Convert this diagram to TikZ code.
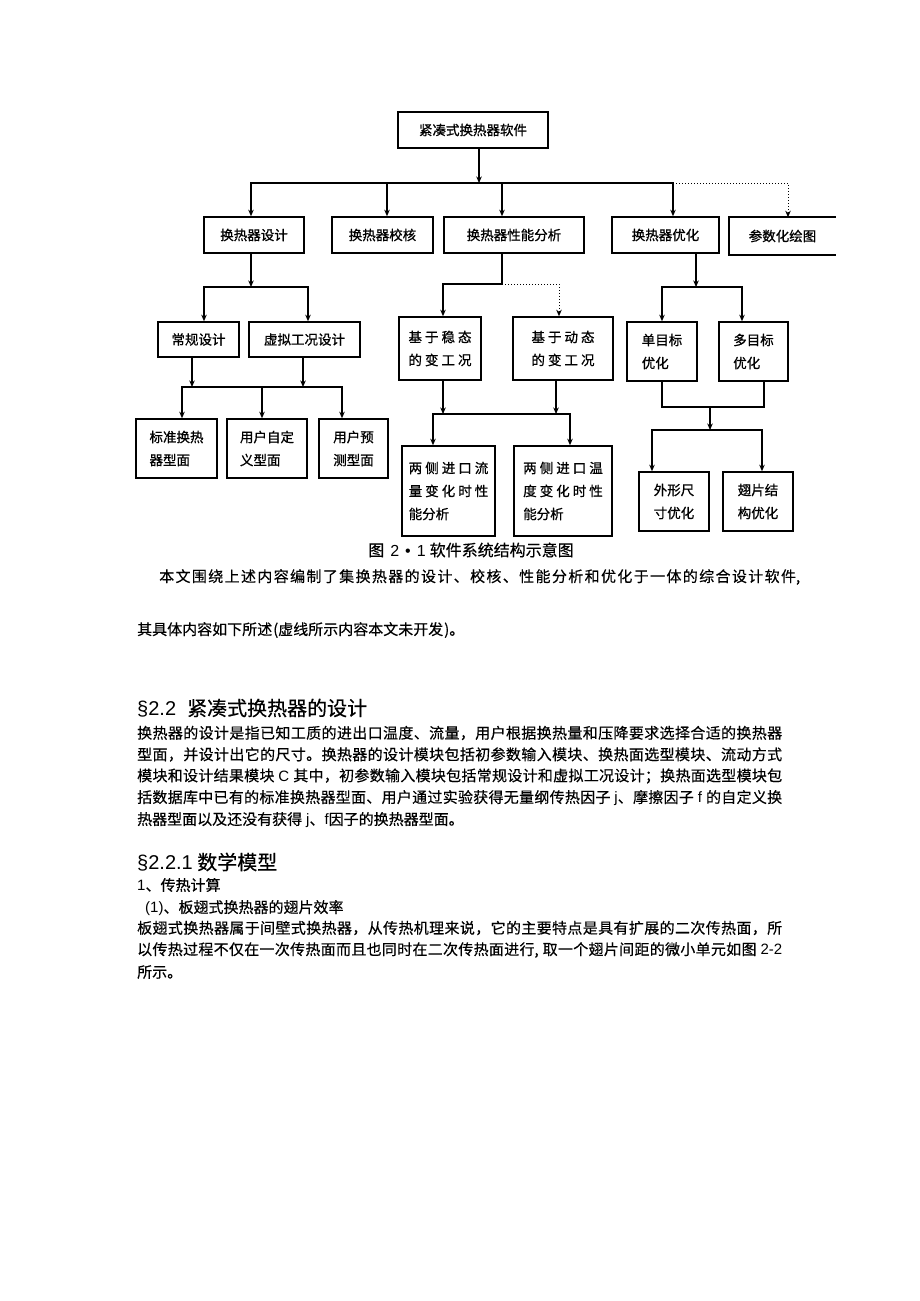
\documentclass[tikz,border=0pt]{standalone}
\usepackage{fontspec}
\setmainfont{Noto Sans CJK SC}[FakeBold=0.4]
\newfontfamily\boxfont{Noto Sans CJK SC}[FakeBold=0.9]
\newfontfamily\latin{Liberation Sans}
\usetikzlibrary{arrows.meta}

% 汉字之间可伸缩的间距（两端对齐用）
\newXeTeXintercharclass\hanclass
\count255="4E00
\loop
  \XeTeXcharclass\count255=\hanclass
  \ifnum\count255<"9FFF \advance\count255 by 1
\repeat
\XeTeXcharclass"3001=\hanclass
\XeTeXcharclass"3002=\hanclass
\XeTeXcharclass"FF0C=\hanclass
\XeTeXcharclass"FF1B=\hanclass
\XeTeXinterchartokenstate=1
\XeTeXinterchartoks\hanclass\hanclass={\hskip 0pt plus 1pt\relax}

\tikzset{
  box/.style={draw, line width=1.6pt, inner sep=0pt, align=center,
    font=\boxfont\fontsize{13.5}{23}\selectfont},
  lbox/.style={box, align=left},
  ln/.style={line width=1.6pt},
  arr/.style={line width=1.6pt, -{Stealth[length=6.5pt,width=5.5pt]}},
  dotarr/.style={line width=1pt, dotted, -{Stealth[length=6.5pt,width=5.5pt]}},
  body/.style={anchor=west, inner sep=0pt, font=\fontsize{15}{18}\selectfont},
  head/.style={anchor=west, inner sep=0pt, font=\fontsize{20}{24}\selectfont}
}

\begin{document}
\begin{tikzpicture}[x=1pt,y=-1pt]

  % 画布
  \fill[white] (0,0) rectangle (920,1301);
  \useasboundingbox (0,0) rectangle (920,1301);

  % 第一层
  \node[box, minimum width=150pt, minimum height=36pt] (soft) at (473,130) {紧凑式换热器软件};

  % 第二层
  \node[box, minimum width=100pt, minimum height=36pt] (design) at (254,235) {换热器设计};
  \node[box, minimum width=101pt, minimum height=36pt] (check) at (382.5,235) {换热器校核};
  \node[box, minimum width=140pt, minimum height=36pt] (perf) at (514,235) {换热器性能分析};
  \node[box, minimum width=107pt, minimum height=36pt] (opt) at (665.5,235) {换热器优化};
  \node[box, draw=none, minimum width=105pt, minimum height=36pt] (param) at (782.5,236) {参数化绘图};
  \draw[ln] (param.north east) -- (param.north west) -- (param.south west) -- (param.south east);

  % 设计分支
  \node[box, minimum width=81pt, minimum height=35pt] (conv) at (198.5,339.5) {常规设计};
  \node[box, minimum width=111pt, minimum height=35pt] (virt) at (304.5,339.5) {虚拟工况设计};
  \node[lbox, minimum width=81pt, minimum height=59pt] (std) at (176.5,448.5) {标准换热\\器型面};
  \node[lbox, minimum width=80pt, minimum height=59pt] (user) at (267,448.5) {用户自定\\义型面};
  \node[lbox, minimum width=69pt, minimum height=59pt] (pred) at (353.5,448.5) {用户预\\测型面};

  % 性能分析分支
  \node[lbox, minimum width=82pt, minimum height=63pt] (steady) at (440,348.5) {基~于~稳~态\\的~变~工~况};
  \node[lbox, minimum width=100pt, minimum height=63pt] (dyn) at (563,348.5) {基~于~动~态\\的~变~工~况};
  \node[lbox, minimum width=93pt, minimum height=90pt] (flow) at (448.5,491) {两~侧~进~口~流\\量~变~化~时~性\\能分析};
  \node[lbox, minimum width=98pt, minimum height=90pt] (temp) at (563,491) {两~侧~进~口~温\\度~变~化~时~性\\能分析};

  % 优化分支
  \node[lbox, minimum width=70pt, minimum height=59pt] (single) at (662,351.5) {单目标\\优化};
  \node[lbox, minimum width=69pt, minimum height=59pt] (multi) at (753.5,351.5) {多目标\\优化};
  \node[lbox, minimum width=70pt, minimum height=59pt] (shape) at (674,501.5) {外形尺\\寸优化};
  \node[lbox, minimum width=70pt, minimum height=59pt] (fin) at (758,501.5) {翅片结\\构优化};

  % 汇流点
  \coordinate (b1) at (479,183);
  \coordinate (b1r) at (673,183);
  \coordinate (b2) at (251,287);
  \coordinate (b3l) at (192,387);
  \coordinate (b3r) at (303,387);
  \coordinate (b4) at (502,284);
  \coordinate (b5l) at (443,414);
  \coordinate (b5r) at (556,414);
  \coordinate (b6) at (696,287);
  \coordinate (b7) at (710,407);
  \coordinate (b8) at (710,430);

  % 第一层连线
  \draw[arr] (soft.south -| b1) -- (b1);
  \draw[arr] (b1) -| ([xshift=-3pt]design.north);
  \draw[arr] (b1) -| ([xshift=4.5pt]check.north);
  \draw[arr] (b1) -| ([xshift=-12pt]perf.north);
  \draw[arr] (b1) -| ([xshift=7.5pt]opt.north);
  \draw[dotarr] (b1r) -| ([xshift=5.5pt]param.north);

  % 设计分支连线
  \draw[arr] ([xshift=-3pt]design.south) -- (b2);
  \draw[arr] (b2) -| ([xshift=5.5pt]conv.north);
  \draw[arr] (b2) -| ([xshift=3.5pt]virt.north);
  \draw[arr] ([xshift=-6.5pt]conv.south) -- (b3l);
  \draw[arr] ([xshift=-1.5pt]virt.south) -- (b3r);
  \draw[arr] (b3l) -| ([xshift=5.5pt]std.north);
  \draw[arr] (b3l) -| ([xshift=-5pt]user.north);
  \draw[arr] (b3l) -| ([xshift=-11.5pt]pred.north);

  % 性能分析分支连线
  \draw[ln] ([xshift=-12pt]perf.south) -- (b4);
  \draw[arr] (b4) -| ([xshift=3pt]steady.north);
  \draw[dotarr] (b4) -| ([xshift=-4pt]dyn.north);
  \draw[arr] ([xshift=3pt]steady.south) -- (b5l);
  \draw[arr] ([xshift=-7pt]dyn.south) -- (b5r);
  \draw[arr] (b5l) -| ([xshift=-15.5pt]flow.north);
  \draw[arr] (b5l) -| ([xshift=7pt]temp.north);

  % 优化分支连线
  \draw[arr] ([xshift=30.5pt]opt.south) -- (b6);
  \draw[arr] (b6) -| (single.north);
  \draw[arr] (b6) -| ([xshift=-11.5pt]multi.north);
  \draw[ln] (single.south) |- (b7);
  \draw[ln] ([xshift=10.5pt]multi.south) |- (b7);
  \draw[arr] (b7) -- (b8);
  \draw[arr] (b8) -| ([xshift=-22pt]shape.north);
  \draw[arr] (b8) -| ([xshift=4pt]fin.north);

  % 图题与正文
  \node[body, anchor=center, font=\fontsize{16}{18}\selectfont] (cap) at (471,550) {图\hspace{6pt}{\latin 2\hspace{6pt}•\hspace{6pt}1}\hspace{4pt}软件系统结构示意图};
  \node[body] (p0) at (159,577) {\makebox[641pt][s]{本文围绕上述内容编制了集换热器的设计、校核、性能分析和优化于一体的综合设计软件,}};
  \node[body] (p1) at (137,630) {其具体内容如下所述\hspace{1pt}(虚线所示内容本文未开发\hspace{1pt})。};

  \node[head] (h1) at (137,708) {{\latin §2.2}\hspace{11pt}紧凑式换热器的设计};
  \node[body] (l1) at (137,733) {\makebox[645pt][s]{换热器的设计是指已知工质的进出口温度、流量，用户根据换热量和压降要求选择合适的换热器}};
  \node[body] (l2) at (137,754.5) {\makebox[645pt][s]{型面，并设计出它的尺寸。换热器的设计模块包括初参数输入模块、换热面选型模块、流动方式}};
  \node[body] (l3) at (137,776) {\makebox[645pt][s]{模块和设计结果模块\hspace{4pt}{\latin C}\hspace{4pt}其中，初参数输入模块包括常规设计和虚拟工况设计；换热面选型模块包}};
  \node[body] (l4) at (137,798) {\makebox[645pt][s]{括数据库中已有的标准换热器型面、用户通过实验获得无量纲传热因子\hspace{4pt}{\latin j}、摩擦因子\hspace{4pt}{\latin f}\hspace{4pt}的自定义换}};
  \node[body] (l5) at (137,820) {热器型面以及还没有获得\hspace{4pt}{\latin j}、{\latin f}因子的换热器型面。};

  \node[head] (h2) at (137,862) {{\latin §2.2.1} 数学模型};
  \node[body] (l6) at (137,885) {{\latin 1}、传热计算};
  \node[body] (l7) at (145,908) {{\latin (1)}、板翅式换热器的翅片效率};
  \node[body] (l8) at (137,928) {\makebox[645pt][s]{板翅式换热器属于间壁式换热器，从传热机理来说，它的主要特点是具有扩展的二次传热面，所}};
  \node[body] (l9) at (137,950) {\makebox[645pt][s]{以传热过程不仅在一次传热面而且也同时在二次传热面进行,\hspace{4pt}取一个翅片间距的微小单元如图\hspace{4pt}{\latin 2-2}}};
  \node[body] (l10) at (137,972) {所示。};

\end{tikzpicture}
\end{document}
